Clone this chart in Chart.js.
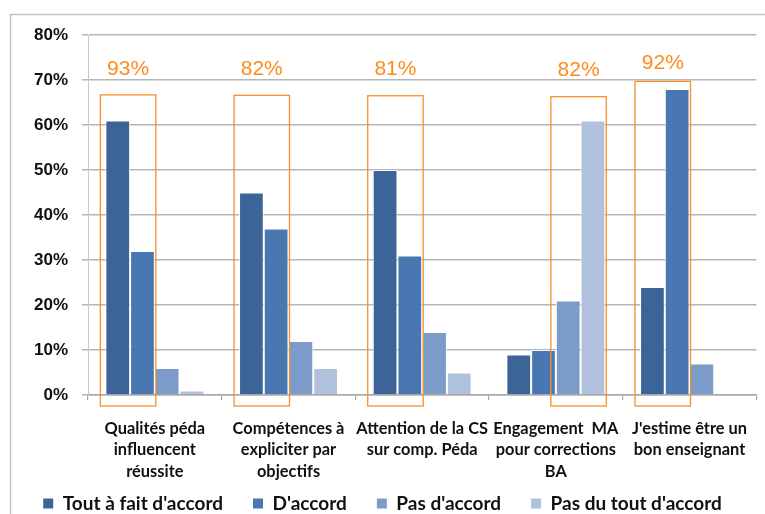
<!DOCTYPE html>
<html>
<head>
<meta charset="utf-8">
<script src="https://cdn.jsdelivr.net/npm/chart.js@4/dist/chart.umd.min.js"></script>
<style>
  html, body { margin: 0; padding: 0; background: #fff; overflow: hidden; }
  #cadre { width: 765px; height: 514px; position: relative; }
</style>
</head>
<body>
<div id="cadre"><canvas id="myChart"></canvas></div>
<script>
// categorias del eje x (una linea por elemento)
const categorias = [
  ["Qualités péda", "influencent", "réussite"],
  ["Compétences à", "expliciter par", "objectifs"],
  ["Attention de la CS", "sur comp. Péda"],
  ["Engagement  MA", "pour corrections", "BA"],
  ["J'estime être un", "bon enseignant"]
];

// nombres de las series (leyenda)
const nomsSeries = ["Tout à fait d'accord", "D'accord", "Pas d'accord", "Pas du tout d'accord"];

// valores en %
const toutAFait = [61, 45, 50, 9, 24];
const dAccord = [32, 37, 31, 10, 68];
const pasDAccord = [6, 12, 14, 21, 7];
const pasDuTout = [1, 6, 5, 61, 0];

// marcas del eje y
const yMin = 0;
const yMax = 80;
const yPas = 10;

// recuadros naranjas: categoria, primera y ultima serie, alto del recuadro, texto y altura del texto
const cadreCategorie = [0, 1, 2, 3, 4];
const cadreDe = [0, 0, 0, 2, 0];
const cadreA = [1, 1, 1, 3, 1];
const cadreHaut = [66.7, 66.6, 66.5, 66.3, 69.7];
const cadreTexte = ["93%", "82%", "81%", "82%", "92%"];
const cadreTexteY = [72.3, 72.3, 72.3, 72.1, 73.8];

const couleurs = ["#3c6497", "#4877b1", "#7d9bc9", "#b1c1dd"];
const orange = "#f7902a";
const fuenteEstrecha = "Lato, 'Liberation Sans', sans-serif";

// marco gris alrededor del grafico
const marcoPlugin = {
  id: "marco",
  beforeDraw(chart) {
    const ctx = chart.ctx;
    ctx.save();
    ctx.strokeStyle = "#c4c4c4";
    ctx.lineWidth = 1.5;
    ctx.strokeRect(10.5, 14.5, chart.width + 20, chart.height + 20);
    ctx.restore();
    // las etiquetas del eje x pasan por debajo de su caja, no recortarlas
    chart.scales.x._computeLabelArea = () => undefined;
  }
};

// dibuja los recuadros y porcentajes naranjas a partir de las barras
const cadresPlugin = {
  id: "cadres",
  afterDatasetsDraw(chart) {
    const ctx = chart.ctx;
    const y = chart.scales.y;
    ctx.save();
    cadreCategorie.forEach((cat, i) => {
      const b1 = chart.getDatasetMeta(cadreDe[i]).data[cat];
      const b2 = chart.getDatasetMeta(cadreA[i]).data[cat];
      const gauche = b1.x - b1.width / 2 - 5;
      const droite = b2.x + b2.width / 2 + 1;
      const haut = y.getPixelForValue(cadreHaut[i]);
      const bas = y.getPixelForValue(0) + 11;
      ctx.strokeStyle = orange;
      ctx.lineWidth = 1.3;
      ctx.strokeRect(gauche, haut, droite - gauche, bas - haut);
      ctx.fillStyle = "#ff8a1c";
      ctx.font = "21px 'Liberation Sans', Arial, sans-serif";
      ctx.textAlign = "center";
      ctx.textBaseline = "middle";
      ctx.fillText(cadreTexte[i], (gauche + droite) / 2, y.getPixelForValue(cadreTexteY[i]));
    });
    ctx.restore();
  }
};

const series = [toutAFait, dAccord, pasDAccord, pasDuTout];
const datasets = series.map((valores, i) => ({
  label: nomsSeries[i],
  data: valores,
  backgroundColor: couleurs[i],
  borderColor: "rgba(255,255,255,0.85)",
  borderWidth: 1,
  borderSkipped: "bottom",
  categoryPercentage: 0.74,
  barPercentage: 1
}));

const ctx = document.getElementById("myChart").getContext("2d");
new Chart(ctx, {
  type: "bar",
  data: { labels: categorias, datasets: datasets },
  options: {
    responsive: true,
    maintainAspectRatio: false,
    animation: false,
    layout: { padding: { top: 35, right: 0, bottom: -9, left: 0 } },
    plugins: {
      tooltip: { enabled: false },
      legend: {
        position: "bottom",
        labels: {
          boxWidth: 10,
          boxHeight: 10,
          padding: 30,
          color: "#111",
          font: { family: fuenteEstrecha, size: 19, weight: "bold" },
          generateLabels(chart) {
            const items = Chart.defaults.plugins.legend.labels.generateLabels(chart);
            return items.map((it) => Object.assign(it, { lineWidth: 0 }));
          }
        }
      }
    },
    scales: {
      x: {
        afterFit(scale) { scale.height = 69; },
        grid: { display: true, drawOnChartArea: false, drawTicks: true, tickLength: 5, color: "#a8a8a8", lineWidth: 1.2 },
        border: { display: true, color: "#a8a8a8", width: 1.5 },
        ticks: {
          color: "#111",
          padding: 18,
          maxRotation: 0,
          autoSkip: false,
          font: { family: fuenteEstrecha, size: 16.4, weight: "bold", lineHeight: 1.3 }
        }
      },
      y: {
        min: yMin,
        max: yMax,
        afterFit(scale) { scale.width = 88; },
        grid: { color: "#b6b6b6", lineWidth: 1.5, tickLength: 6, drawTicks: true },
        border: { display: true, color: "#c8c8c8", width: 1 },
        ticks: {
          stepSize: yPas,
          padding: 14,
          color: "#111",
          font: { family: "'Liberation Sans', Arial, sans-serif", size: 17, weight: "bold" },
          callback: (v) => v + "%"
        }
      }
    }
  },
  plugins: [marcoPlugin, cadresPlugin]
});
</script>
</body>
</html>
